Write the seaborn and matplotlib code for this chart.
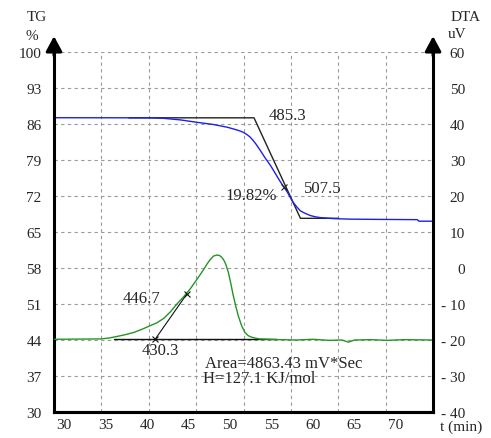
import numpy as np
import pandas as pd
import matplotlib
matplotlib.use("Agg")
import matplotlib.pyplot as plt
import seaborn as sns

# TG curve (min, %)
tg_time = [28.8, 40.4, 42.0, 44.0, 46.0, 48.0, 49.7, 50.6, 51.2, 51.6, 52.0, 52.4,
           52.8, 53.2, 53.6, 54.2, 54.9, 55.5, 56.1, 56.9, 57.6, 58.1, 58.5, 59.1,
           59.7, 60.3, 60.9, 62.5, 64.5, 68.0, 72.6, 72.8, 74.5]
tg_value = [87.22, 87.2, 87.1, 86.8, 86.33, 85.9, 85.36, 84.95, 84.65, 84.38, 84.0, 83.5,
            82.8, 81.95, 81.0, 79.5, 77.9, 76.3, 74.7, 72.8, 70.8, 69.8, 69.1, 68.6,
            68.2, 67.95, 67.8, 67.6, 67.5, 67.45, 67.4, 67.1, 67.1]

# DTA curve (min, uV)
dta_time = [28.8, 34.4, 35.4, 36.4, 37.4, 38.4, 39.4, 40.4, 41.2, 42.0, 42.8, 43.6,
            44.4, 45.2, 46.0, 46.8, 47.2, 47.6, 48.0, 48.4, 48.7, 48.9, 49.1, 49.3,
            49.5, 49.8, 50.1, 50.4, 50.7, 51.0, 51.4, 51.8, 52.2, 52.6, 53.1, 53.6,
            56.0, 58.0, 60.0, 62.0, 63.5, 64.3, 65.0, 67.0, 69.0, 71.0, 74.5]
dta_value = [-19.8, -19.7, -19.45, -19.0, -18.5, -17.9, -17.0, -16.0, -15.2, -14.0, -12.2, -10.0,
             -8.0, -5.8, -3.2, -0.5, 1.0, 2.3, 3.3, 3.6, 3.5, 3.2, 2.7, 2.0,
             1.0, -1.2, -4.3, -7.7, -10.6, -13.3, -16.0, -17.9, -18.8, -19.2, -19.5, -19.7,
             -19.9, -20.0, -19.8, -20.1, -20.0, -20.6, -20.0, -19.9, -20.1, -19.9, -20.0]

# construction lines
tg_tangent_t = [37.8, 52.9, 58.5, 63.1]
tg_tangent_v = [87.2, 87.2, 67.66, 67.66]
dta_base_t = [36.0, 55.5]
dta_base_v = [-19.75, -19.75]
dta_tangent_t = [41.0, 44.8]
dta_tangent_v = [-19.7, -7.2]

x_ticks = [30, 35, 40, 45, 50, 55, 60, 65, 70]
tg_ticks = [30, 37, 44, 51, 58, 65, 72, 79, 86, 93, 100]
dta_ticks = [-40, -30, -20, -10, 0, 10, 20, 30, 40, 50, 60]
dta_labels = ["- 40", "- 30", "- 20", "- 10", "0", "10", "20", "30", "40", "50", "60"]

sns.set_style("white")
plt.rcParams['font.family'] = ['Liberation Serif', 'DejaVu Serif']
plt.rcParams['font.size'] = 11

fig = plt.figure(figsize=(4.91, 4.39), dpi=100)
ax = fig.add_axes([0.110, 0.0592, 0.772, 0.8201])
ax2 = ax.twinx()

xmin, xmax = 28.77, 74.5
ax.set_xlim(xmin, xmax)
ax.set_ylim(30, 100)
ax2.set_ylim(-40, 60)

# grid: vertical lines split the frame in 8, horizontal lines at TG ticks
ax.set_xticks(x_ticks)
ax.set_xticks([xmin + k * (xmax - xmin) / 8 for k in range(1, 8)], minor=True)
ax.set_yticks(tg_ticks)
ax.grid(which='minor', axis='x', color='#9a9a9a', ls=(0, (3, 3)), lw=0.8)
ax.grid(which='major', axis='y', color='#9a9a9a', ls=(0, (3, 3)), lw=0.8)
ax.grid(which='major', axis='x', visible=False)
ax.tick_params(which='both', length=0)
ax.tick_params(axis='y', pad=9)
ax.tick_params(axis='x', pad=4)

ax2.set_yticks(dta_ticks)
ax2.set_yticklabels(dta_labels)
ax2.tick_params(axis='y', length=0, pad=23)
for lab in ax2.get_yticklabels():
    lab.set_horizontalalignment('right')

for a in (ax, ax2):
    a.spines['top'].set_visible(False)
    for s in ('left', 'right', 'bottom'):
        a.spines[s].set_linewidth(2.2)
        a.spines[s].set_color('black')
ax2.spines['left'].set_visible(False)
ax.spines['right'].set_visible(False)

# curves
sns.lineplot(x=tg_tangent_t, y=tg_tangent_v, ax=ax, color='#222222', lw=1.0)
sns.lineplot(x=tg_time, y=tg_value, ax=ax, color='#1f1fe6', lw=1.0)
sns.lineplot(x=dta_base_t, y=dta_base_v, ax=ax2, color='#111111', lw=1.0)
sns.lineplot(x=dta_tangent_t, y=dta_tangent_v, ax=ax2, color='#111111', lw=0.8)
sns.lineplot(x=dta_time, y=dta_value, ax=ax2, color='#259425', lw=1.0)

ax.plot([56.5], [73.7], marker='x', ms=5, color='#222222', mew=0.8)
ax2.plot(dta_tangent_t, dta_tangent_v, ls='none', marker='x', ms=5, color='#111111', mew=0.8)

ax.set_xlabel('')
ax.set_ylabel('')
ax2.set_ylabel('')

# annotations
note = dict(fontsize=12, va='center')
ax.text(56.9, 87.75, '485.3', ha='center', **note)
ax.text(52.6, 72.2, '19.82%', ha='center', **note)
ax.text(61.25, 73.55, '507.5', ha='center', **note)
ax2.text(39.3, -8.3, '446.7', ha='center', **note)
ax2.text(41.6, -22.8, '430.3', ha='center', **note)
ax2.text(47.0, -26.4, 'Area=4863.43 mV*Sec', ha='left', **note)
ax2.text(46.7, -30.6, 'H=127.1 KJ/mol', ha='left', **note)

# axis arrows and titles
arrow = dict(arrowstyle='-|>,head_length=0.65,head_width=0.35', lw=2.2, color='black',
             mutation_scale=14, shrinkA=0, shrinkB=0)
ax.annotate('', xy=(0, 1.044), xytext=(0, 0.99), xycoords='axes fraction', arrowprops=arrow)
ax.annotate('', xy=(1, 1.044), xytext=(1, 0.99), xycoords='axes fraction', arrowprops=arrow)

fig.text(37 / 491, 1 - 17.5 / 439, 'TG', ha='center', va='center')
fig.text(32 / 491, 1 - 37 / 439, '%', ha='center', va='center')
fig.text(466 / 491, 1 - 17.5 / 439, 'DTA', ha='center', va='center')
fig.text(448 / 491, 1 - 35 / 439, 'uV', ha='left', va='center')
fig.text(440 / 491, 1 - 427 / 439, 't (min)', ha='left', va='center')

fig.savefig('out.png', dpi=100)
